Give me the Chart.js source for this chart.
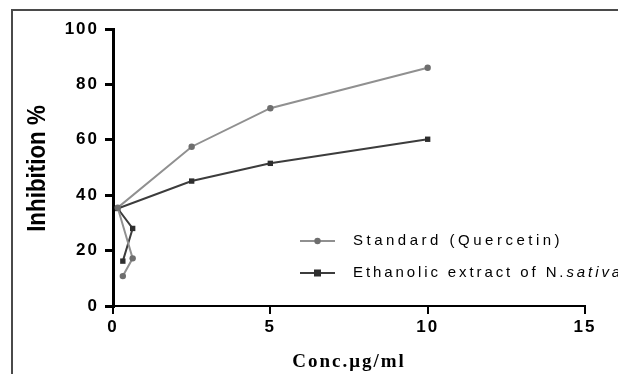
<!DOCTYPE html>
<html>
<head>
<meta charset="utf-8">
<script src="https://cdn.jsdelivr.net/npm/chart.js@4.4.1/dist/chart.umd.min.js"></script>
<style>
  html, body { margin: 0; padding: 0; background: #fff; }
  #wrap { width: 618px; height: 374px; }
</style>
</head>
<body>
<div id="wrap"><canvas id="inhibChart" width="618" height="374"></canvas></div>
<script>
// values (points kept in the order the lines join them)
const concStandard = [0.3125, 0.625, 0.15, 2.5, 5, 10];
const inhibStandard = [10.8, 17.2, 35.5, 57.5, 71.4, 86];
const concExtract = [0.3125, 0.625, 0.15, 2.5, 5, 10];
const inhibExtract = [16.2, 28, 35.2, 45.1, 51.5, 60.2];

const seriesNames = ["Standard (Quercetin)", "Ethanolic extract of N.sativa"];
const xTicks = [0, 5, 10, 15];
const yTicks = [0, 20, 40, 60, 80, 100];
const yTitle = "Inhibition %";

const toPoints = (xs, ys) => xs.map((x, i) => ({ x, y: ys[i] }));

// frame round the figure, and the wide letter spacing of the old export
const framePlugin = {
  id: "frame",
  beforeDraw(chart) {
    const c = chart.ctx;
    c.save();
    c.strokeStyle = "#4a4a4a";
    c.lineWidth = 2;
    c.beginPath();
    c.moveTo(12, 374);
    c.lineTo(12, 10);
    c.lineTo(618, 10);
    c.stroke();
    c.restore();
    c.letterSpacing = "2px";
  },
  afterDraw(chart) {
    chart.ctx.letterSpacing = "0px";
  }
};

// y title (tall, narrow letters) and the legend inside the plot
const legendPlugin = {
  id: "insideLegend",
  afterDraw(chart) {
    const c = chart.ctx;
    const area = chart.chartArea;
    c.save();
    c.letterSpacing = "0px";
    c.translate(38, (area.top + area.bottom) / 2 + 1);
    c.rotate(-Math.PI / 2);
    c.scale(0.86, 1);
    c.font = "bold 26px 'Liberation Sans', Arial, sans-serif";
    c.fillStyle = "#000";
    c.textAlign = "center";
    c.textBaseline = "middle";
    c.fillText(yTitle, 0, 0);
    c.restore();

    const rows = [241, 273];
    const spacing = ["3.5px", "2.9px"];
    c.save();
    chart.data.datasets.forEach((ds, i) => {
      const y = rows[i];
      c.strokeStyle = ds.borderColor;
      c.lineWidth = 2;
      c.beginPath();
      c.moveTo(300, y);
      c.lineTo(335, y);
      c.stroke();
      c.fillStyle = ds.pointBackgroundColor;
      if (ds.pointStyle === "rect") {
        c.fillRect(314, y - 3.5, 7, 7);
      } else {
        c.beginPath();
        c.arc(317.5, y, 3.2, 0, Math.PI * 2);
        c.fill();
      }
      c.fillStyle = "#000";
      c.font = "15px 'Liberation Sans', Arial, sans-serif";
      c.letterSpacing = spacing[i];
      c.textBaseline = "middle";
      c.textAlign = "left";
      if (i === 1) {
        // "N.sativa" is set in italics in the original
        const plain = "Ethanolic extract of N.";
        c.fillText(plain, 353, y);
        const w = c.measureText(plain).width;
        c.font = "italic 15px 'Liberation Sans', Arial, sans-serif";
        c.fillText("sativa", 353 + w, y);
      } else {
        c.fillText(ds.label, 353, y);
      }
      c.letterSpacing = "0px";
    });
    c.restore();
  }
};

const ctx = document.getElementById("inhibChart").getContext("2d");

new Chart(ctx, {
  type: "scatter",
  data: {
    datasets: [
      {
        label: seriesNames[0],
        data: toPoints(concStandard, inhibStandard),
        showLine: true,
        borderColor: "#909090",
        borderWidth: 2,
        pointStyle: "circle",
        pointRadius: 3.2,
        pointBackgroundColor: "#6e6e6e",
        pointBorderWidth: 0
      },
      {
        label: seriesNames[1],
        data: toPoints(concExtract, inhibExtract),
        showLine: true,
        borderColor: "#3c3c3c",
        borderWidth: 2,
        pointStyle: "rect",
        pointRadius: 3.8,
        pointBackgroundColor: "#2e2e2e",
        pointBorderWidth: 0
      }
    ]
  },
  plugins: [framePlugin, legendPlugin],
  options: {
    responsive: false,
    devicePixelRatio: 1,
    animation: false,
    layout: { padding: { top: 29, right: 33, left: 0, bottom: 0 } },
    plugins: {
      legend: { display: false },
      tooltip: { enabled: false }
    },
    scales: {
      x: {
        type: "linear",
        min: 0,
        max: 15,
        afterFit: s => { s.height = 68; },
        afterBuildTicks: s => { s.ticks = xTicks.map(v => ({ value: v })); },
        border: { display: true, color: "#000", width: 2 },
        grid: { drawOnChartArea: false, drawTicks: true, tickLength: 8, color: "#000", lineWidth: 2 },
        ticks: {
          color: "#000",
          padding: 3,
          font: { family: "'Liberation Sans', Arial, sans-serif", size: 17, weight: "bold" }
        },
        title: {
          display: true,
          text: "Conc.μg/ml",
          color: "#000",
          padding: { top: 0, bottom: 1 },
          font: { family: "'Liberation Serif', 'Times New Roman', serif", size: 19, weight: "bold" }
        }
      },
      y: {
        min: 0,
        max: 100,
        afterFit: s => { s.width = 113; },
        afterBuildTicks: s => { s.ticks = yTicks.map(v => ({ value: v })); },
        border: { display: true, color: "#000", width: 3 },
        grid: { drawOnChartArea: false, drawTicks: true, tickLength: 8, color: "#000", lineWidth: 3 },
        ticks: {
          color: "#000",
          padding: 6,
          font: { family: "'Liberation Sans', Arial, sans-serif", size: 17, weight: "bold" }
        },
        title: { display: false, text: yTitle }
      }
    }
  }
});
</script>
</body>
</html>
